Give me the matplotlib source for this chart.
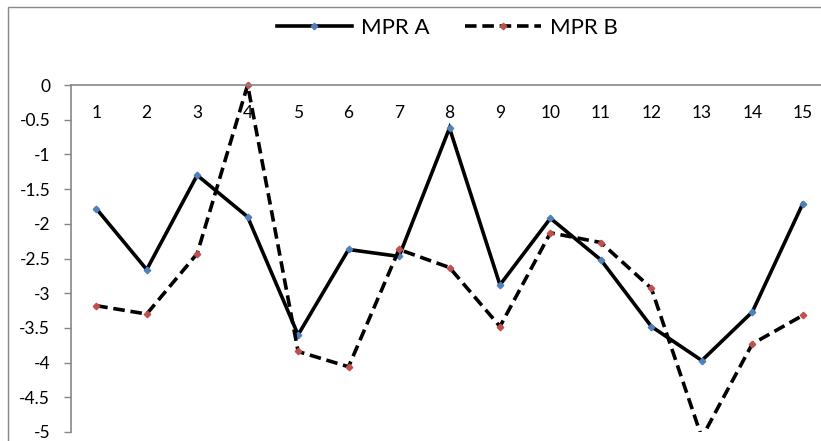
import matplotlib
matplotlib.use("Agg")
import matplotlib.pyplot as plt
import matplotlib.patches as patch
from matplotlib.lines import Line2D

plt.rcParams['font.family'] = ['Lato', 'DejaVu Sans']
plt.rcParams['axes.unicode_minus'] = False

categories = list(range(1, 16))
mpr_a = [-1.78, -2.66, -1.30, -1.90, -3.60, -2.37, -2.47, -0.62,
         -2.88, -1.92, -2.52, -3.48, -3.97, -3.27, -1.71]
mpr_b = [-3.18, -3.30, -2.43, 0.00, -3.84, -4.06, -2.37, -2.63,
         -3.48, -2.13, -2.27, -2.93, -5.08, -3.73, -3.32]
yticks = [0, -0.5, -1, -1.5, -2, -2.5, -3, -3.5, -4, -4.5, -5]
ytick_labels = ['0', '-0.5', '-1', '-1.5', '-2', '-2.5', '-3', '-3.5', '-4', '-4.5', '-5']

W, H = 821, 441
fig = plt.figure(figsize=(W / 100, H / 100), dpi=100)

# chart area border (cropped on right and bottom like the original)
fig.patches.append(patch.Rectangle((8 / W, -0.1), 2, 1 - 7 / H + 0.1,
                                   transform=fig.transFigure, fill=False,
                                   edgecolor='#888888', linewidth=1.0))

left, right, top, bottom = 71, 828, 85, 432
ax = fig.add_axes([left / W, 1 - bottom / H, (right - left) / W, (bottom - top) / H])

gray = '#868686'
blue = '#4F81BD'
red = '#C0504D'
dash = (0, (3.2, 1.6))
ms = 3.3

la, = ax.plot(categories, mpr_a, color='black', lw=2.6, marker='D', ms=ms,
              mfc=blue, mec=blue, solid_joinstyle='miter')
lb, = ax.plot(categories, mpr_b, color='black', lw=2.6, linestyle=dash, marker='D', ms=ms,
              mfc=red, mec=red)

# clip to the plot, but let markers on the 0 axis show fully
clip = patch.Rectangle((0, 0), 1, 1.05, transform=ax.transAxes)
for ln in (la, lb):
    ln.set_clip_path(clip)

ax.set_xlim(0.5, 15.5)
ax.set_ylim(-5, 0)
ax.set_yticks(yticks)
ax.set_yticklabels(ytick_labels)
ax.set_xticks(categories)
ax.set_xticklabels([str(c) for c in categories])

ax.xaxis.tick_top()
ax.tick_params(axis='x', length=0, pad=-26, labelsize=12.5)
ax.tick_params(axis='y', direction='out', length=5, width=1, color=gray, pad=10, labelsize=12.5)

for s in ('right', 'bottom'):
    ax.spines[s].set_visible(False)
for s in ('left', 'top'):
    ax.spines[s].set_color(gray)
    ax.spines[s].set_linewidth(1.2)

handles = [Line2D([], [], color='black', lw=2.6, marker='D', ms=ms, mfc=blue, mec=blue),
           Line2D([], [], color='black', lw=2.6, linestyle=dash, marker='D', ms=ms, mfc=red, mec=red)]
fig.legend(handles, ['MPR A', 'MPR B'], loc='center', bbox_to_anchor=(447 / W, 1 - 28 / H),
           ncol=2, frameon=False, fontsize=16, handlelength=3.4, columnspacing=1.6,
           handletextpad=0.4, markerfirst=True)

fig.savefig('out.png', dpi=100)
